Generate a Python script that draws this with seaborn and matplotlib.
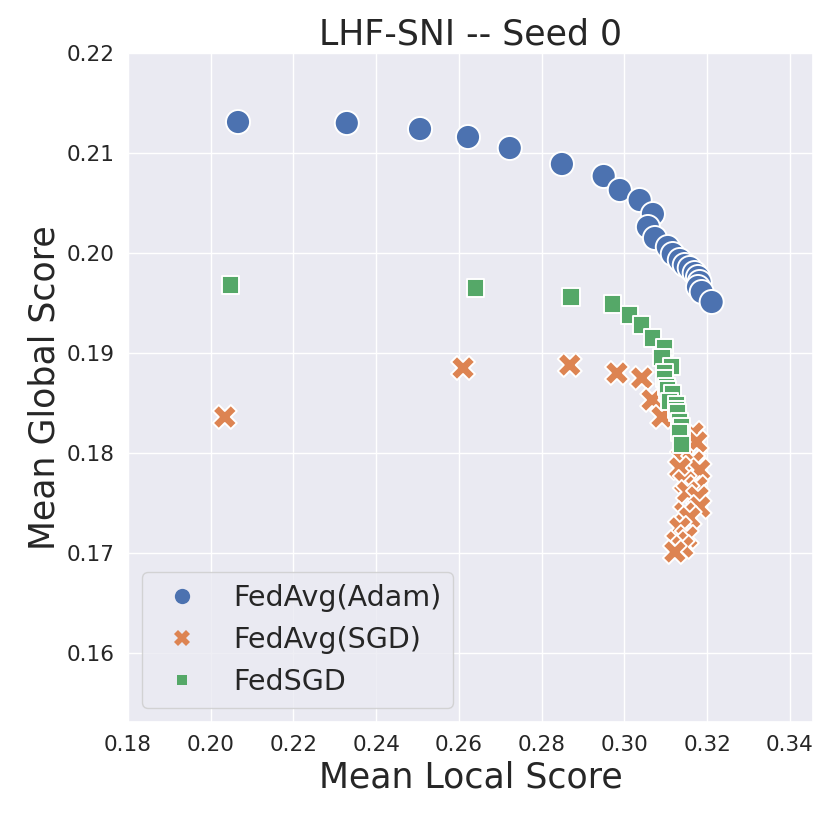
import numpy as np
import pandas as pd
import matplotlib
matplotlib.use("Agg")
import matplotlib.pyplot as plt
import seaborn as sns

# values
adam_local = [0.2066, 0.2329, 0.2506, 0.2622, 0.2723, 0.2849, 0.2950, 0.2989,
              0.3037, 0.3069, 0.3057, 0.3074, 0.3105, 0.3117, 0.3134, 0.3146,
              0.3158, 0.3170, 0.3178, 0.3182, 0.3178, 0.3187, 0.3211]
adam_global = [0.2131, 0.2130, 0.2124, 0.2116, 0.2105, 0.2089, 0.2077, 0.2063,
               0.2053, 0.2039, 0.2026, 0.2015, 0.2006, 0.1999, 0.1993, 0.1988,
               0.1985, 0.1980, 0.1976, 0.1971, 0.1966, 0.1961, 0.1951]

sgd_local = [0.2034, 0.2610, 0.2868, 0.2982, 0.3042, 0.3067, 0.3091, 0.3166,
             0.3175, 0.3139, 0.3166, 0.3182, 0.3134, 0.3146, 0.3175, 0.3153,
             0.3178, 0.3182, 0.3146, 0.3158, 0.3134, 0.3151, 0.3127, 0.3141,
             0.3122]
sgd_global = [0.1836, 0.1885, 0.1888, 0.1880, 0.1875, 0.1853, 0.1836, 0.1820,
              0.1811, 0.1795, 0.1791, 0.1783, 0.1785, 0.1771, 0.1766, 0.1761,
              0.1756, 0.1746, 0.1740, 0.1735, 0.1725, 0.1716, 0.1711, 0.1706,
              0.1701]

fedsgd_local = [0.2049, 0.2641, 0.2871, 0.2972, 0.3013, 0.3042, 0.3067, 0.3098,
                0.3091, 0.3115, 0.3098, 0.3098, 0.3103, 0.3105, 0.3117, 0.3110,
                0.3127, 0.3127, 0.3129, 0.3134, 0.3139, 0.3134, 0.3139]
fedsgd_global = [0.1968, 0.1965, 0.1956, 0.1949, 0.1938, 0.1928, 0.1915, 0.1905,
                 0.1895, 0.1886, 0.1880, 0.1874, 0.1866, 0.1863, 0.1859, 0.1851,
                 0.1848, 0.1843, 0.1840, 0.1831, 0.1826, 0.1820, 0.1808]

methods = ["FedAvg(Adam)", "FedAvg(SGD)", "FedSGD"]

df = pd.concat([
    pd.DataFrame({"local": adam_local, "global": adam_global, "method": methods[0]}),
    pd.DataFrame({"local": sgd_local, "global": sgd_global, "method": methods[1]}),
    pd.DataFrame({"local": fedsgd_local, "global": fedsgd_global, "method": methods[2]}),
], ignore_index=True)

sns.set_theme(style="darkgrid")
plt.rcParams['font.family'] = ['DejaVu Sans']

fig, ax = plt.subplots(figsize=(8.3, 8.22), dpi=100)
fig.subplots_adjust(left=0.1542, right=0.9795, top=0.9355, bottom=0.1217)

sns.scatterplot(data=df, x="local", y="global", hue="method", style="method",
                hue_order=methods, style_order=methods, s=300, ax=ax)

ax.set_xlim(0.18, 0.3456)
ax.set_ylim(0.1531, 0.22)
ax.set_xticks(np.arange(0.18, 0.341, 0.02))
ax.set_yticks(np.arange(0.16, 0.221, 0.01))
ax.tick_params(labelsize=15.6)
ax.set_xlabel("Mean Local Score", fontsize=25)
ax.set_ylabel("Mean Global Score", fontsize=25)
ax.set_title("LHF-SNI -- Seed 0", fontsize=25)

# smaller, edge-free markers in the legend
handles, labels = ax.get_legend_handles_labels()
for h in handles:
    h.set_markersize(11)
    h.set_markeredgewidth(0)
ax.legend(handles, labels, loc="lower left", fontsize=20.5, title=None)

fig.savefig("out.png", dpi=100)
